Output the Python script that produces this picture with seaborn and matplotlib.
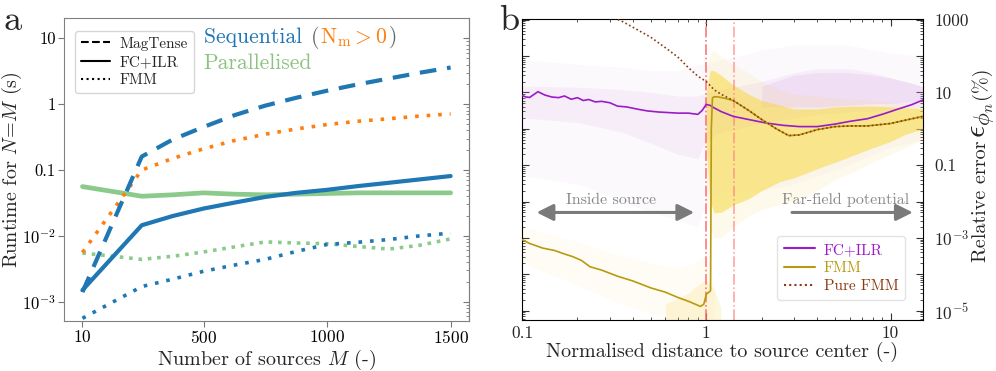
import numpy as np
import pandas as pd
import matplotlib
matplotlib.use("Agg")
import matplotlib.pyplot as plt
import seaborn as sns
from matplotlib.lines import Line2D
from matplotlib.offsetbox import TextArea, HPacker, VPacker, AnchoredOffsetbox
from matplotlib.ticker import LogLocator, NullFormatter, NullLocator

sns.set_style("ticks")
plt.rcParams.update({
    "font.family": "serif",
    "font.serif": ["cmr10"],
    "mathtext.fontset": "cm",
    "axes.unicode_minus": False,
    "axes.formatter.use_mathtext": True,
})

# ---------------- panel a data ----------------
M = [10, 250, 375, 500, 625, 750, 875, 1000, 1125, 1250, 1375, 1500]
seq_magtense = [1.4e-3, 0.16, 0.29, 0.45, 0.68, 0.95, 1.25, 1.6, 2.0, 2.45, 3.0, 3.6]
nm_fmm = [5.6e-3, 0.10, 0.15, 0.21, 0.28, 0.35, 0.42, 0.49, 0.55, 0.60, 0.66, 0.71]
seq_fcilr = [1.5e-3, 0.0145, 0.020, 0.026, 0.032, 0.039, 0.045, 0.050, 0.057, 0.064, 0.072, 0.081]
par_fcilr = [0.056, 0.040, 0.042, 0.045, 0.043, 0.042, 0.043, 0.044, 0.045, 0.045, 0.045, 0.045]
par_fmm = [5.5e-3, 4.4e-3, 4.9e-3, 5.7e-3, 6.8e-3, 8.1e-3, 7.8e-3, 7.6e-3, 6.9e-3, 6.3e-3, 7.2e-3, 9.0e-3]
seq_fmm = [5.6e-4, 1.7e-3, 2.2e-3, 2.9e-3, 3.6e-3, 4.4e-3, 5.8e-3, 7.4e-3, 8.0e-3, 8.8e-3, 1.0e-2, 1.1e-2]
a_yticks = [1e-3, 1e-2, 0.1, 1, 10]
a_yticklabels = ["$10^{-3}$", "$10^{-2}$", "0.1", "1", "10"]
a_xticks = [10, 500, 1000, 1500]

# ---------------- panel b data ----------------
fcilr_x = [0.10, 0.105, 0.11, 0.122, 0.133, 0.145, 0.158, 0.17, 0.185, 0.2, 0.215, 0.23, 0.25, 0.27,
           0.3, 0.33, 0.37, 0.42, 0.48, 0.55, 0.62, 0.7, 0.8, 0.9, 0.95, 1.0, 1.05, 1.1, 1.2, 1.4,
           1.7, 2.1, 2.6, 3.2, 4.0, 5.0, 6.0, 7.5, 9.0, 11.0, 13.0, 15.0]
fcilr_y = [8.3, 7.5, 7.3, 10.5, 8.5, 7.5, 7.2, 8.0, 6.5, 7.2, 6.0, 6.4, 5.5, 5.7,
           5.2, 4.2, 4.0, 3.5, 3.1, 2.9, 2.8, 2.7, 2.7, 2.5, 3.2, 4.7, 4.4, 3.8, 3.0, 2.2,
           1.8, 1.45, 1.25, 1.15, 1.15, 1.35, 1.6, 1.9, 2.5, 3.5, 4.6, 6.2]
pure_x = [0.25, 0.3, 0.35, 0.4, 0.5, 0.6, 0.7, 0.8, 0.9, 1.0, 1.1, 1.2, 1.4, 1.7, 2.0, 2.4, 2.8,
          3.2, 4.0, 5.0, 6.0, 7.5, 10, 12.5, 15]
pure_y = [2000, 1250, 900, 620, 330, 170, 95, 48, 28, 20, 12, 9, 6.0, 3.2, 1.8, 1.0, 0.65,
          0.68, 0.95, 1.15, 1.2, 1.2, 1.4, 1.8, 2.2]
fmm_x = [0.1, 0.11, 0.12, 0.13, 0.15, 0.17, 0.19, 0.21, 0.234, 0.27, 0.33, 0.4, 0.5, 0.6, 0.7,
         0.8, 0.93, 0.97, 1.0, 1.055, 1.065, 1.08, 1.1, 1.15, 1.25, 1.4, 1.7, 2.0, 2.4, 2.8,
         3.2, 4.0, 5.0, 6.0, 7.5, 10, 12.5, 15]
fmm_y = [9e-4, 7e-4, 6e-4, 5.2e-4, 4.5e-4, 3.6e-4, 3.0e-4, 2.4e-4, 1.6e-4, 1.3e-4, 8.8e-5,
         6.5e-5, 4.2e-5, 3.2e-5, 2.3e-5, 1.8e-5, 1.3e-5, 1.5e-5, 2.8e-5, 3.5e-5, 1.0, 7.0, 7.6,
         7.6, 7.0, 6.0, 3.2, 1.8, 1.0, 0.65, 0.68, 0.95, 1.15, 1.2, 1.2, 1.4, 1.8, 2.2]

# point clouds summarised as bands
ycl_x = [1.0, 1.05, 1.1, 1.2, 1.4, 1.7, 2.0, 2.5, 3.0, 4.0, 5.0, 6.5, 8.0, 10, 12, 15]
ycl_flo = [1e-2, 2e-3, 1e-3, 1e-3, 2e-3, 4e-3, 6e-3, 8e-3, 0.01, 0.02, 0.04, 0.07, 0.12, 0.2, 0.3, 0.5]
ycl_fhi = [40, 120, 150, 100, 60, 35, 20, 12, 9, 8, 7, 6.5, 6, 5.5, 5, 5]
ycl_dlo = [0.3, 0.01, 0.005, 0.005, 0.008, 0.012, 0.02, 0.035, 0.045, 0.08, 0.12, 0.2, 0.3, 0.45, 0.7, 1.0]
ycl_dhi = [10, 40, 40, 30, 16, 9, 6, 4.5, 3.5, 3.5, 4.0, 4.2, 4.2, 4.0, 3.8, 3.6]
yin_x = [0.1, 0.2, 0.3, 0.5, 0.7, 0.85, 0.95, 1.0, 1.05, 1.1]
yin_lo = [2e-4, 5e-5, 2e-5, 8e-6, 5e-6, 4e-6, 4e-6, 4e-6, 4e-6, 4e-6]
yin_hi = [2e-3, 8e-4, 4e-4, 2e-4, 1.5e-4, 2e-4, 3e-4, 4e-4, 2e-4, 6e-5]
ycore_x = [0.6, 0.8, 0.9, 1.0, 1.1, 1.2]
ycore_lo = [5e-6, 4e-6, 4e-6, 4e-6, 4e-6, 5e-6]
ycore_hi = [1.5e-5, 3e-5, 5e-5, 7e-5, 4e-5, 1.2e-5]
pcl_x = [0.1, 0.2, 0.35, 0.5, 0.7, 0.9, 1.0, 1.2, 1.5, 2, 3, 4, 6, 8, 10, 15]
pcl_flo = [0.05, 0.03, 0.01, 0.005, 0.003, 0.002, 0.01, 0.02, 0.02, 0.02, 0.03, 0.05, 0.1, 0.2, 0.3, 0.5]
pcl_fhi = [80, 60, 50, 40, 40, 60, 60, 80, 100, 150, 200, 200, 200, 150, 120, 100]
pcl_dlo = [2, 1.5, 0.8, 0.4, 0.2, 0.15, 0.5, 0.8, 1.0, 1.5, 2.0, 2.5, 3, 3, 3.5, 4]
pcl_dhi = [15, 14, 12, 10, 8, 8, 10, 12, 15, 20, 35, 45, 45, 35, 25, 15]
pcore_x = [2, 3, 4, 6, 8, 10, 13, 15]
pcore_lo = [4, 4, 4, 4.5, 5, 5, 5.5, 6]
pcore_hi = [15, 30, 35, 35, 30, 25, 18, 14]

b_yticks = [1e-5, 1e-4, 1e-3, 1e-2, 1e-1, 1, 10, 100, 1000]
b_yticklabels = ["$10^{-5}$", "", "$10^{-3}$", "", "0.1", "", "10", "", "1000"]
b_xticks = [0.1, 1, 10]
b_xticklabels = ["0.1", "1", "10"]

BLUE, ORANGE, GREEN = "#1f77b4", "#ff7f0e", "#2ca02c"
PURPLE, GOLD, BROWN = "#9a1bc8", "#b89a10", "#8b3a10"

fig = plt.figure(figsize=(9.96, 3.71), dpi=100)
axA = fig.add_axes([0.0643, 0.1348, 0.4066, 0.8154])
axB = fig.add_axes([0.5241, 0.1375, 0.4026, 0.8113])

# ---------------- panel a ----------------
series = [
    (par_fcilr, GREEN, "-", 3.4, 0.55),
    (par_fmm, GREEN, (0, (1, 1.6)), 2.6, 0.55),
    (seq_fmm, BLUE, (0, (1, 2.2)), 2.6, 1.0),
    (nm_fmm, ORANGE, (0, (1, 2.2)), 2.6, 1.0),
    (seq_fcilr, BLUE, "-", 3.0, 1.0),
    (seq_magtense, BLUE, (0, (4, 2.6)), 3.0, 1.0),
]
for vals, col, ls, lw, al in series:
    df = pd.DataFrame({"M": M, "t": vals})
    sns.lineplot(data=df, x="M", y="t", ax=axA, color=col, linestyle=ls,
                 linewidth=lw, alpha=al, legend=False, estimator=None)

axA.set_yscale("log")
axA.set_ylim(5.1e-4, 20)
axA.set_xlim(-64.5, 1574.5)
axA.set_yticks(a_yticks, a_yticklabels)
axA.yaxis.set_minor_locator(NullLocator())
axA.set_xticks(a_xticks)
axA.tick_params(direction="out", length=4, width=0.8, color="#777777",
                labelcolor="black", labelsize=12.5, pad=2)
axA.tick_params(axis="y", labelsize=12)
for s in axA.spines.values():
    s.set_color("#808080")
axA.set_xlabel("Number of sources $M$ (-)", fontsize=14.5, labelpad=1)
axA.set_ylabel(r"Runtime for $N\!=\!M$ (s)", fontsize=14.5)
axA.yaxis.set_label_coords(-0.099, 0.5)

sec = axA.secondary_yaxis("right")
sec.yaxis.set_major_locator(LogLocator(base=10, numticks=100))
sec.yaxis.set_minor_locator(LogLocator(base=10, subs=np.arange(2, 10), numticks=100))
sec.yaxis.set_major_formatter(NullFormatter())
sec.yaxis.set_minor_formatter(NullFormatter())
sec.tick_params(which="both", direction="in", color="#777777")
sec.tick_params(which="major", length=4)
sec.tick_params(which="minor", length=2)
sec.spines["right"].set_color("#808080")

hA = [Line2D([], [], color="black", ls="--", lw=1.5),
      Line2D([], [], color="black", ls="-", lw=1.5),
      Line2D([], [], color="black", ls=":", lw=1.5)]
legA = axA.legend(hA, ["MagTense", "FC+ILR", "FMM"], loc="upper left",
                  bbox_to_anchor=(0.008, 0.985), fontsize=11, frameon=True,
                  handlelength=1.9, handletextpad=0.6, borderpad=0.4,
                  labelspacing=0.3, fancybox=True)
legA.get_frame().set_edgecolor("#cccccc")

row1 = HPacker(children=[
    TextArea("Sequential ", textprops=dict(color=BLUE, size=15.5)),
    TextArea("(", textprops=dict(color="#666666", size=15.5)),
    TextArea(r"$\mathrm{N_m} > 0$", textprops=dict(color=ORANGE, size=15.5)),
    TextArea(")", textprops=dict(color="#666666", size=15.5)),
], align="baseline", pad=0, sep=1)
row2 = TextArea("Parallelised", textprops=dict(color="#8cc37f", size=15.5))
vbox = VPacker(children=[row1, row2], align="left", pad=0, sep=3)
anc = AnchoredOffsetbox(loc="upper left", child=vbox, frameon=False,
                        bbox_to_anchor=(0.345, 0.975), bbox_transform=axA.transAxes,
                        borderpad=0, pad=0)
axA.add_artist(anc)

# ---------------- panel b ----------------
axB.fill_between(pcl_x, pcl_flo, pcl_fhi, color="#d49ae0", alpha=0.05, lw=0, zorder=1)
axB.fill_between(pcl_x, pcl_dlo, pcl_dhi, color="#d49ae0", alpha=0.12, lw=0, zorder=1)
axB.fill_between(pcore_x, pcore_lo, pcore_hi, color="#d49ae0", alpha=0.18, lw=0, zorder=1)
axB.fill_between(yin_x, yin_lo, yin_hi, color="#f5d33f", alpha=0.05, lw=0, zorder=1)
axB.fill_between(ycore_x, ycore_lo, ycore_hi, color="#f5d33f", alpha=0.18, lw=0, zorder=1)
axB.fill_between(ycl_x, ycl_flo, ycl_fhi, color="#f5d33f", alpha=0.1, lw=0, zorder=1)
axB.fill_between(ycl_x, ycl_dlo, ycl_dhi, color="#f7d840", alpha=0.55, lw=0, zorder=1)

axB.axvline(1.0, color="#ff6060", ls="-.", lw=1.2, alpha=0.85, zorder=2)
axB.axvline(1.42, color="#ff8080", ls="-.", lw=1.2, alpha=0.7, zorder=2)

sns.lineplot(x=fcilr_x, y=fcilr_y, ax=axB, color=PURPLE, lw=1.2, sort=False,
             estimator=None, label="FC+ILR", zorder=4)
sns.lineplot(x=fmm_x, y=fmm_y, ax=axB, color=GOLD, lw=1.2, sort=False,
             estimator=None, label="FMM", zorder=4)
sns.lineplot(x=pure_x, y=pure_y, ax=axB, color=BROWN, lw=1.2, linestyle=(0, (1, 1.5)),
             sort=False, estimator=None, label="Pure FMM", zorder=5)

axB.set_xscale("log")
axB.set_yscale("log")
axB.set_xlim(0.1, 15)
axB.set_ylim(5.5e-6, 1.05e3)
axB.yaxis.set_major_locator(LogLocator(base=10, numticks=100))
axB.yaxis.set_minor_locator(LogLocator(base=10, subs=np.arange(2, 10), numticks=100))
axB.set_yticks(b_yticks, b_yticklabels)
axB.yaxis.set_minor_formatter(NullFormatter())
axB.set_xticks(b_xticks, b_xticklabels)
axB.xaxis.set_minor_locator(LogLocator(base=10, subs=np.arange(2, 10), numticks=100))
axB.xaxis.set_minor_formatter(NullFormatter())
axB.tick_params(which="both", direction="in", left=True, right=True, top=True, bottom=True,
                labelleft=False, labelright=True, labelsize=12.5, color="#333333")
axB.tick_params(which="major", length=5, width=0.8)
axB.tick_params(which="minor", length=2.5, width=0.6)
axB.tick_params(axis="y", pad=8)
axB.tick_params(axis="x", pad=4)
for s in axB.spines.values():
    s.set_color("black")
axB.set_xlabel("Normalised distance to source center (-)", fontsize=14.5, labelpad=1)

legB = axB.legend(loc="lower right", bbox_to_anchor=(0.975, 0.04), fontsize=11,
                  frameon=True, handlelength=2.0, handletextpad=0.6, borderpad=0.45,
                  labelspacing=0.3)
legB.get_frame().set_edgecolor("#dddddd")
for t, c in zip(legB.get_texts(), [PURPLE, GOLD, BROWN]):
    t.set_color(c)
for h in legB.get_lines():
    h.set_linewidth(1.5)

ARR = "#7a7a7a"
axB.annotate("", xy=(0.86, 5e-3), xytext=(0.12, 5e-3),
             arrowprops=dict(arrowstyle="<|-|>,head_length=0.5,head_width=0.25",
                             color=ARR, lw=2.2, mutation_scale=20, shrinkA=0, shrinkB=0),
             zorder=6)
axB.annotate("", xy=(13.2, 5e-3), xytext=(2.92, 5e-3),
             arrowprops=dict(arrowstyle="-|>,head_length=0.5,head_width=0.25",
                             color=ARR, lw=2.2, mutation_scale=20, shrinkA=0, shrinkB=0),
             zorder=6)
axB.text(0.306, 1.07e-2, "Inside source", ha="center", va="center", color="#888888",
         fontsize=11.5, zorder=6)
axB.text(5.69, 1.1e-2, "Far-field potential", ha="center", va="center", color="#888888",
         fontsize=11.5, zorder=6)

# right-hand y label composed of pieces
fig.canvas.draw()
r = fig.canvas.get_renderer()
xl = 981 / 996
t1 = fig.text(xl, 1 - 262 / 371, "Relative error", rotation=90, ha="center", va="bottom",
              fontsize=14.5)
fig.canvas.draw()
bb = t1.get_window_extent(r)
top1 = bb.y1 / fig.bbox.height
t2 = fig.text(xl + 0.001, top1 + 0.008, r"$\epsilon_{\phi_n}$", rotation=90, ha="center",
              va="bottom", fontsize=22)
fig.canvas.draw()
bb2 = t2.get_window_extent(r)
top2 = bb2.y1 / fig.bbox.height
fig.text(xl, top2 + 0.008, "(%)", rotation=90, ha="center", va="bottom", fontsize=14.5)

fig.text(0.004, 0.985, "a", fontsize=26, ha="left", va="top")
fig.text(0.501, 0.985, "b", fontsize=26, ha="left", va="top")

fig.savefig("out.png", dpi=100)
